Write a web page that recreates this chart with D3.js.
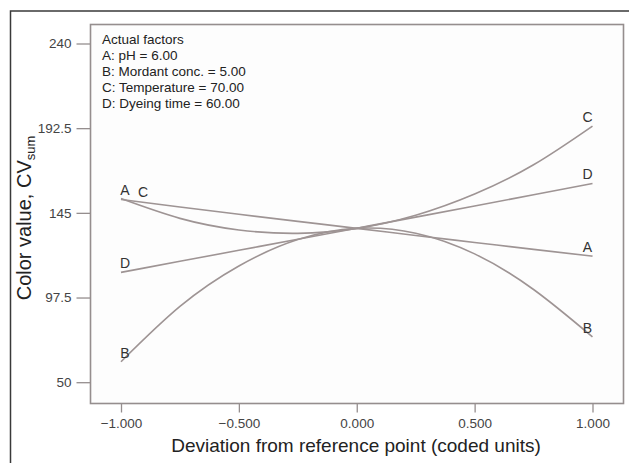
<!DOCTYPE html>
<html>
<head>
<meta charset="utf-8">
<script src="https://cdn.jsdelivr.net/npm/d3@7"></script>
<style>
  body { margin: 0; background: #fff; }
  svg { display: block; font-family: "Liberation Sans", Arial, sans-serif; }
</style>
</head>
<body>
<div id="chart"></div>
<script>
'use strict';

// coded deviation from reference point
const xValues = [-1, -0.75, -0.5, -0.25, 0, 0.25, 0.5, 0.75, 1];
// CV_sum
const seriesA = [152.5, 148.3, 144.2, 140.2, 136.3, 132.3, 128.4, 124.5, 120.7];
const seriesB = [61.5, 92.5, 115.2, 130, 136.3, 133.6, 122, 102, 75.4];
const seriesC = [153, 141.9, 135.4, 133.5, 136.3, 143.7, 155.6, 172, 193.7];
const seriesD = [111.6, 117.8, 124, 130.2, 136.4, 142.6, 148.8, 155.2, 161.5];
const seriesNames = ["A", "B", "C", "D"];

const xTicks = [-1, -0.5, 0, 0.5, 1];
const yTicks = [50, 97.5, 145, 192.5, 240];

const factorLines = [
    "Actual factors",
    "A: pH = 6.00",
    "B: Mordant conc. = 5.00",
    "C: Temperature = 70.00",
    "D: Dyeing time = 60.00"
];

const width = 629;
const height = 463;
const margin = { top: 24.5, bottom: 403.5, left: 90.5, right: 623.5 };

const svg = d3.select("#chart")
    .append("svg")
    .attr("width", width)
    .attr("height", height);

// outer frame (runs off the right and bottom edge)
svg.append("rect")
    .attr("x", 10.5).attr("y", 11)
    .attr("width", 660).attr("height", 500)
    .attr("fill", "none")
    .attr("stroke", "#3a3a3a")
    .attr("stroke-width", 1.5);

const xScale = d3.scaleLinear()
    .domain([-1, 1])
    .range([121, 592.5]);

const yScale = d3.scaleLinear()
    .domain([50, 240])
    .range([382.2, 43.5]);

// plot box
svg.append("rect")
    .attr("x", margin.left).attr("y", margin.top)
    .attr("width", margin.right - margin.left)
    .attr("height", margin.bottom - margin.top)
    .attr("fill", "#fdfdfd")
    .attr("stroke", "#958e8e")
    .attr("stroke-width", 1.6);

const xAxis = d3.axisBottom(xScale)
    .tickValues(xTicks)
    .tickFormat(d3.format(".3f"))
    .tickSize(9)
    .tickSizeOuter(0)
    .tickPadding(6);

const yAxis = d3.axisLeft(yScale)
    .tickValues(yTicks)
    .tickFormat(d => d)
    .tickSize(14)
    .tickSizeOuter(0)
    .tickPadding(5);

const gx = svg.append("g")
    .attr("class", "axis x-axis")
    .attr("transform", `translate(0, ${margin.bottom})`)
    .call(xAxis);

const gy = svg.append("g")
    .attr("class", "axis y-axis")
    .attr("transform", `translate(${margin.left}, 0)`)
    .call(yAxis);

[gx, gy].forEach(g => {
    g.select(".domain").remove();
    g.selectAll(".tick line").attr("stroke", "#958e8e").attr("stroke-width", 1.3);
    g.selectAll(".tick text")
        .attr("fill", "#444")
        .attr("font-size", "13.5px")
        .attr("font-family", "Liberation Sans, Arial, sans-serif");
});

// axis titles
svg.append("text")
    .attr("x", 356)
    .attr("y", 452)
    .attr("text-anchor", "middle")
    .attr("font-size", "19px")
    .attr("fill", "#222")
    .text("Deviation from reference point (coded units)");

const yTitle = svg.append("text")
    .attr("transform", "translate(31, 218) rotate(-90)")
    .attr("text-anchor", "middle")
    .attr("font-size", "20px")
    .attr("fill", "#222");
yTitle.append("tspan").text("Color value, CV");
yTitle.append("tspan")
    .attr("font-size", "13px")
    .attr("dy", "4")
    .text("sum");

// actual factors note
svg.append("g")
    .selectAll("text")
    .data(factorLines)
    .join("text")
    .attr("x", 102)
    .attr("y", (d, i) => 44 + i * 16)
    .attr("font-size", "13.5px")
    .attr("fill", "#222")
    .text(d => d);

// curves
const series = [seriesA, seriesB, seriesC, seriesD].map((vals, i) => ({
    name: seriesNames[i],
    points: xValues.map((x, j) => [x, vals[j]])
}));

const line = d3.line()
    .x(d => xScale(d[0]))
    .y(d => yScale(d[1]))
    .curve(d3.curveNatural);

svg.append("g")
    .selectAll("path")
    .data(series)
    .join("path")
    .attr("d", d => line(d.points))
    .attr("fill", "none")
    .attr("stroke", "#9e9494")
    .attr("stroke-width", 1.6);

// end labels
const labelG = svg.append("g")
    .attr("font-size", "14px")
    .attr("fill", "#333")
    .attr("text-anchor", "middle");

labelG.selectAll("text.left")
    .data(series)
    .join("text")
    .attr("class", "left")
    .attr("x", d => xScale(d.points[0][0]) + (d.name === "C" ? 22 : 4))
    .attr("y", d => yScale(d.points[0][1]) - (d.name === "C" ? 2 : 4))
    .text(d => d.name);

labelG.selectAll("text.right")
    .data(series)
    .join("text")
    .attr("class", "right")
    .attr("x", d => xScale(d.points[d.points.length - 1][0]) - 5)
    .attr("y", d => yScale(d.points[d.points.length - 1][1]) - 4)
    .text(d => d.name);
</script>
</body>
</html>
